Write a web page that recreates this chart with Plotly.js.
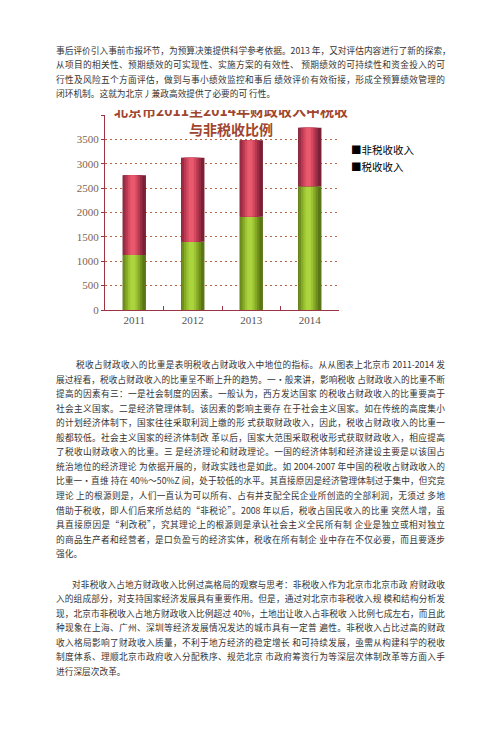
<!DOCTYPE html>
<html>
<head>
<meta charset="utf-8">
<script src="https://cdn.plot.ly/plotly-3.0.1.min.js"></script>
<style>
body { margin:0; background:#fff; width:500px; height:739px; overflow:hidden; position:relative;
       font-family:"Noto Sans CJK SC", sans-serif; }
.line { position:absolute; left:56px; width:389px; height:14px; line-height:14px; font-size:8.7px;
        color:#333; white-space:nowrap; text-align:justify; text-align-last:justify; }
.line.last { text-align-last:left; }
#chartBox { position:absolute; left:0; top:110px; width:500px; height:240px; overflow:hidden; }
#chart { width:500px; height:240px; }
</style>
</head>
<body>
<div id="text"></div>
<div id="chartBox"><div id="chart"></div></div>
<script>
// Chart data
var years = ['2011', '2012', '2013', '2014'];
var taxIncome = [1130, 1400, 1915, 2540];      // 税收收入
var nonTaxIncome = [1635, 1725, 1565, 1200];   // 非税收收入
var yTicks = [0, 500, 1000, 1500, 2000, 2500, 3000, 3500, 4000];
var titleLines = ['北京市2011至2014年财政收入中税收', '与非税收比例'];
var legendLabels = ['■非税收收入', '■税收收入'];

// Page text, one entry per printed line
var para1Lines = [
    '事后评价引入事前市报坏节，为预算决策提供科学参考依据。2013 年，又对评估内容进行了新的探索，',
    '从项目的相关性、预期绩效的可实现性、实施方案的有效性、 预期绩效的可持续性和资金投入的可',
    '行性及风险五个方面评估，做到与事小绩效监控和事后 绩效评价有效衔接，形成全预算绩效管理的',
    '闭环机制。这就为北京丿兼政高效提供了必要的可 行性。'
];
var para2Lines = [
    '税收占财政收入的比重是表明税收占财政收入中地位的指标。从从图表上北京市 2011-2014 发',
    '展过程看，税收占财政收入的比重呈不断上升的趋势。一•般来讲，影响税收 占财政收入的比重不断',
    '提高的因素有三：一是社会制度的因素。一般认为，西方发达国家 的税收占财政收入的比重要高于',
    '社会主义国家。二是经济管理体制。该因素的影响主要存 在于社会主义国家。如在传统的高度集小',
    '的计划经济体制下，国家往往采取利润上缴的形 式获取财政收入，因此，税收占财政收入的比重一',
    '般都较低。社会主义国家的经济体制改 革以后，国家大范围采取税收形式获取财政收入，相应提高',
    '了税收山财政收入的比重。三 是经济理论和财政理论。一国的经济体制和经济建设主要是以该国占',
    '统治地位的经济理论 为依据开展的，财政实践也是如此。如 2004-2007 年中国的税收占财政收入的',
    '比重一•直维 持在 40%～50%Z 间，处于较低的水平。其直接原因是经济管理体制过于集中，但究竞',
    '理论 上的根源则是，人们一直认为可以所有、占有并支配全民企业所创造的全部利润，无须过 多地',
    '借助于税收，即人们后来所总结的“非税论”。2008 年以后，税收占国民收入的比重 突然人增，虽',
    '具直接原因是“利改税”，究其理论上的根源则是承认社会主义全民所有制 企业是独立或相对独立',
    '的商品生产者和经营者，是口负盈亏的经济实体，税收在所有制企 业中存在不仅必要，而且要逐步',
    '强化。'
];
var para3Lines = [
    '对非税收入占地方财政收入比例过高格局的观察与思考：非税收入作为北京市北京市政 府财政收',
    '入的组成部分，对支持国家经济发展具有重要作用。但是，通过对北京市非税收入规 模和结构分析发',
    '现，北京市非税收入占地方财政收入比例超过 40%，土地出让收入占非税收 入比例七成左右，而且此',
    '种现象在上海、广州、深圳等经济发展情况发达的城市具有一定普 遍性。非税收入占比过高的财政',
    '收入格局影响了财政收入质量，不利于地方经济的稳定增长 和可持续发展，亟需从构建科学的税收',
    '制度体系、理顺北京市政府收入分配秩序、规范北京 市政府筹资行为等深层次体制改革等方面入手',
    '进行深层次改革。'
];

// Write one paragraph, line by line
function fn_WritePara(lines, firstCenter, step, indent) {
    var box = document.getElementById('text');
    for (var i = 0; i < lines.length; i++) {
        var d = document.createElement('div');
        d.className = 'line' + (i == lines.length - 1 ? ' last' : '');
        d.style.top = (firstCenter + i * step - 7) + 'px';
        if (i == 0 && indent > 0) {
            d.style.left = (56 + indent) + 'px';
            d.style.width = (389 - indent) + 'px';
        }
        d.textContent = lines[i];
        box.appendChild(d);
    }
}
fn_WritePara(para1Lines, 50.7, 14.45, 0);
fn_WritePara(para2Lines, 365, 14.55, 20);
fn_WritePara(para3Lines, 585, 14.45, 16);

// Bar shading: several overlaid bars of shrinking width give the cylinder look
var layerWidths = [0.40, 0.33, 0.25, 0.17, 0.09];
var greenShades = ['#5b7616', '#6f901d', '#86aa27', '#9bc332', '#acd43e'];
var redShades = ['#7c2035', '#9a2c43', '#b93952', '#d4495f', '#e8596d'];

var traces = [];
for (var k = 0; k < layerWidths.length; k++) {
    var w = layerWidths[k];
    var c = (k == 0) ? 0 : -0.025;
    traces.push({
        type: 'bar', x: years, y: taxIncome,
        width: w, offset: c - w / 2,
        marker: { color: greenShades[k], line: { width: 0 } },
        showlegend: false, hoverinfo: 'skip'
    });
}
for (var k = 0; k < layerWidths.length; k++) {
    var w = layerWidths[k];
    var c = (k == 0) ? 0 : -0.025;
    traces.push({
        type: 'bar', x: years, y: nonTaxIncome, base: taxIncome,
        width: w, offset: c - w / 2,
        marker: { color: redShades[k], line: { width: 0 } },
        showlegend: false, hoverinfo: 'skip'
    });
}

var axisColor = '#9c3444';
var titleColor = '#a0452e';

var annotations = [];
// Title (top line is cut by the picture edge, as in the scan)
annotations.push({ text: '<b>' + titleLines[0] + '</b>', xref: 'paper', yref: 'paper',
    x: 0.54, y: 1.0256, xanchor: 'center', yanchor: 'middle', showarrow: false,
    font: { family: 'Noto Sans CJK SC', size: 14, color: titleColor } });
annotations.push({ text: '<b>' + titleLines[1] + '</b>', xref: 'paper', yref: 'paper',
    x: 0.54, y: 0.928, xanchor: 'center', yanchor: 'middle', showarrow: false,
    font: { family: 'Noto Sans CJK SC', size: 14, color: titleColor } });
// Legend written as text, like the original
var legendY = [0.823, 0.738];
for (var i = 0; i < legendLabels.length; i++) {
    annotations.push({ text: legendLabels[i], xref: 'paper', yref: 'paper',
        x: 1.045, y: legendY[i], xanchor: 'left', yanchor: 'middle', showarrow: false,
        borderpad: 0,
        font: { family: 'Noto Sans CJK SC', size: 10.5, color: '#000' } });
}

var layout = {
    width: 500, height: 240,
    margin: { l: 105, r: 161, t: 5, b: 40 },
    paper_bgcolor: '#fff', plot_bgcolor: '#fff',
    barmode: 'overlay',
    showlegend: false,
    xaxis: {
        type: 'category', range: [-0.5, 3.5],
        showline: true, linecolor: axisColor, linewidth: 1,
        ticks: 'inside', tickson: 'boundaries', ticklen: 4, tickcolor: axisColor,
        showgrid: false, fixedrange: true,
        tickfont: { family: 'Liberation Serif', size: 11, color: '#555' }
    },
    yaxis: {
        range: [0, 4000], tickvals: yTicks, ticktext: yTicks.map(String),
        showline: true, linecolor: axisColor, linewidth: 1,
        ticks: 'outside', ticklen: 3, tickcolor: axisColor,
        showgrid: true, gridcolor: '#b9653f', griddash: '2px,3px', gridwidth: 1,
        zeroline: false, fixedrange: true,
        tickfont: { family: 'Liberation Serif', size: 11, color: '#7d6452' }
    },
    annotations: annotations
};

Plotly.newPlot('chart', traces, layout, { displayModeBar: false, staticPlot: true });
</script>
</body>
</html>
